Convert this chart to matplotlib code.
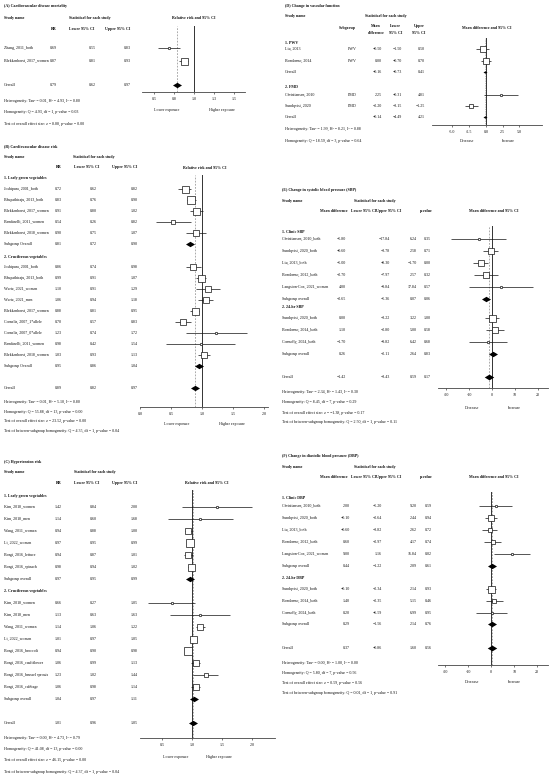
import numpy as np
import matplotlib
matplotlib.use("Agg")
import matplotlib.pyplot as plt
from matplotlib.path import Path

plt.rcParams['font.family'] = ['Liberation Serif', 'DejaVu Serif']

W, H = 550, 777
FS = 2.9

# ======================= DATA =======================
# (A) Cardiovascular disease mortality
A_names = ["Zhang, 2011_both", "Blekkenhorst, 2017_women"]
A_est = [0.69, 0.87]
A_lo = [0.55, 0.81]
A_hi = [0.83, 0.93]
A_wt = [6, 49]
A_overall = [0.79, 0.62, 0.97]
A_ticks = [0.5, 0.75, 1.0, 1.25, 1.5]
A_ticklabels = ["0.5", "0.8", "1.0", "1.3", "1.5"]
A_stats = ["Heterogeneity: Tau² = 0.01, H² = 4.93, I² = 0.80",
           "Homogeneity: Q = 4.93, df = 1, p-value = 0.03",
           "Test of overall effect size: z = 8.88, p-value = 0.00"]

# (B) Cardiovascular disease risk
B_g1_names = ["Joshipura, 2001_both", "Bhupathiraju, 2013_both", "Blekkenhorst, 2017_women",
              "Bendinelli, 2011_women", "Blekkenhorst, 2018_women"]
B_g1_est = [0.72, 0.83, 0.91, 0.54, 0.90]
B_g1_lo = [0.62, 0.76, 0.80, 0.26, 0.75]
B_g1_hi = [0.82, 0.90, 1.02, 0.82, 1.07]
B_g1_wt = [49, 56, 49, 16, 36]
B_g1_sub = [0.81, 0.72, 0.90]
B_g2_names = ["Joshipura, 2001_both", "Bhupathiraju, 2013_both", "Wurtz, 2021_women", "Wurtz, 2021_men",
              "Blekkenhorst, 2017_women", "Cornelis, 2007_1*allele", "Cornelis, 2007_0*allele",
              "Bendinelli, 2011_women", "Blekkenhorst, 2018_women"]
B_g2_est = [0.86, 0.99, 1.10, 1.06, 0.88, 0.70, 1.23, 0.98, 1.03]
B_g2_lo = [0.74, 0.91, 0.91, 0.94, 0.81, 0.57, 0.74, 0.42, 0.93]
B_g2_hi = [0.98, 1.07, 1.29, 1.18, 0.95, 0.83, 1.72, 1.54, 1.13]
B_g2_wt = [42, 49, 36, 42, 49, 42, 6, 6, 42]
B_g2_sub = [0.95, 0.86, 1.04]
B_overall = [0.89, 0.82, 0.97]
B_ticks = [0.0, 0.5, 1.0, 1.5, 2.0]
B_stats = ["Heterogeneity: Tau² = 0.01, H² = 5.10, I² = 0.80",
           "Homogeneity: Q = 55.88, df = 13, p-value = 0.00",
           "Test of overall effect size: z = 23.52, p-value = 0.00",
           "Test of between-subgroup homogeneity: Q = 4.35, df = 1, p-value = 0.04"]

# (C) Hypertension risk
C_g1_names = ["Kim, 2018_women", "Kim, 2018_men", "Wang, 2011_women", "Li, 2022_women",
              "Borgi, 2016_lettuce", "Borgi, 2016_spinach"]
C_g1_est = [1.42, 1.14, 0.94, 0.97, 0.94, 0.98]
C_g1_lo = [0.84, 0.60, 0.88, 0.95, 0.87, 0.94]
C_g1_hi = [2.00, 1.68, 1.00, 0.99, 1.01, 1.02]
C_g1_wt = [6, 6, 45, 56, 45, 49]
C_g1_sub = [0.97, 0.95, 0.99]
C_g2_names = ["Kim, 2018_women", "Kim, 2018_men", "Wang, 2011_women", "Li, 2022_women",
              "Borgi, 2016_broccoli", "Borgi, 2016_cauliflower", "Borgi, 2016_brussel sprouts",
              "Borgi, 2016_cabbage"]
C_g2_est = [0.66, 1.13, 1.14, 1.01, 0.94, 1.06, 1.23, 1.06]
C_g2_lo = [0.27, 0.63, 1.06, 0.97, 0.90, 0.99, 1.02, 0.98]
C_g2_hi = [1.05, 1.63, 1.22, 1.05, 0.98, 1.13, 1.44, 1.14]
C_g2_wt = [6, 6, 30, 49, 56, 36, 14, 42]
C_g2_sub = [1.04, 0.97, 1.11]
C_overall = [1.01, 0.96, 1.05]
C_ticks = [0.5, 1.0, 1.5, 2.0]
C_stats = ["Heterogeneity: Tau² = 0.00, H² = 4.73, I² = 0.79",
           "Homogeneity: Q = 41.08, df = 13, p-value = 0.00",
           "Test of overall effect size: z = 46.15, p-value = 0.00",
           "Test of between-subgroup homogeneity: Q = 4.37, df = 1, p-value = 0.04"]

# (D) Change in vascular function
D_g1_names = ["Liu, 2013", "Bondonno, 2014"]
D_g1_est = [-0.50, 0.00]
D_g1_lo = [-1.50, -0.70]
D_g1_hi = [0.50, 0.70]
D_g1_wt = [30, 30]
D_g1_sub = [-0.16, -0.73, 0.41]
D_g2_names = ["Christiansen, 2010", "Sundqvist, 2020"]
D_g2_est = [2.25, -2.20]
D_g2_lo = [-0.31, -3.15]
D_g2_hi = [4.81, -1.25]
D_g2_wt = [4, 25]
D_g2_sub = [-0.14, -4.49, 4.21]
D_ticks = [-5.0, -2.5, 0.0, 2.5, 5.0]
D_stats = ["Heterogeneity: Tau² = 1.99, H² = 8.21, I² = 0.88",
           "Homogeneity: Q = 18.59, df = 3, p-value = 0.64"]

# (E) Change in systolic blood pressure
E_g1_names = ["Christiansen, 2010_both", "Sundqvist, 2020_both", "Liu, 2013_both",
              "Bondonno, 2012_both", "Langston-Cox, 2021_women"]
E_g1_est = [-5.80, -0.60, -5.00, -2.70, 4.00]
E_g1_lo = [-17.84, -3.78, -8.30, -7.97, -9.84]
E_g1_hi = [6.24, 2.58, -1.70, 2.57, 17.84]
E_g1_p = [0.35, 0.71, 0.00, 0.32, 0.57]
E_g1_wt = [6, 42, 42, 30, 6]
E_g1_sub = [-2.65, -5.36, 0.07, 0.06]
E_g2_names = ["Sundqvist, 2020_both", "Bondonno, 2014_both", "Connolly, 2024_both"]
E_g2_est = [0.00, 1.10, -1.70]
E_g2_lo = [-3.22, -2.80, -9.82]
E_g2_hi = [3.22, 5.00, 6.42]
E_g2_p = [1.00, 0.58, 0.68]
E_g2_wt = [49, 36, 6]
E_g2_sub = [0.26, -2.11, 2.64, 0.83]
E_overall = [-1.42, -3.43, 0.59, 0.17]
E_stats = ["Heterogeneity: Tau² = 2.34, H² = 1.43, I² = 0.30",
           "Homogeneity: Q = 8.45, df = 7, p-value = 0.29",
           "Test of overall effect size: z = −1.38, p-value = 0.17",
           "Test of between-subgroup homogeneity: Q = 2.50, df = 1, p-value = 0.11"]

# (F) Change in diastolic blood pressure
F_g1_names = ["Christiansen, 2010_both", "Sundqvist, 2020_both", "Liu, 2013_both",
              "Bondonno, 2012_both", "Langston-Cox, 2021_women"]
F_g1_est = [2.00, -0.10, -0.60, 0.60, 9.00]
F_g1_lo = [-5.20, -2.64, -3.82, -2.97, 1.16]
F_g1_hi = [9.20, 2.44, 2.62, 4.17, 16.84]
F_g1_p = [0.59, 0.94, 0.72, 0.74, 0.02]
F_g1_wt = [6, 30, 25, 25, 6]
F_g1_sub = [0.44, -1.22, 2.09, 0.61]
F_g2_names = ["Sundqvist, 2020_both", "Bondonno, 2014_both", "Connolly, 2024_both"]
F_g2_est = [-0.10, 1.40, 0.20]
F_g2_lo = [-2.34, -2.35, -6.59]
F_g2_hi = [2.14, 5.15, 6.99]
F_g2_p = [0.93, 0.46, 0.95]
F_g2_wt = [49, 25, 6]
F_g2_sub = [0.29, -1.56, 2.14, 0.76]
F_overall = [0.37, -0.86, 1.60, 0.56]
F_stats = ["Heterogeneity: Tau² = 0.00, H² = 1.00, I² = 0.00",
           "Homogeneity: Q = 5.80, df = 7, p-value = 0.56",
           "Test of overall effect size: z = 0.59, p-value = 0.56",
           "Test of between-subgroup homogeneity: Q = 0.01, df = 1, p-value = 0.91"]
MD_ticks = [-20, -10, 0, 10, 20]

# ======================= DRAWING =======================
fig = plt.figure(figsize=(W / 100, H / 100), dpi=100)
fig.patch.set_facecolor('white')

INK = '#111111'


def fmt(v):
    return f"{v:.2f}".replace("-", "\u2212")


def T(x, y, s, bold=False, ha='left', size=FS):
    fig.text(x / W, 1 - y / H, s, fontsize=size, fontweight='bold' if bold else 'normal',
             ha=ha, va='center', color=INK)


def make_ax(x0, x1, ytop, yaxis, xlim, ticks, ticklabels=None):
    ax = fig.add_axes([x0 / W, 1 - yaxis / H, (x1 - x0) / W, (yaxis - ytop) / H])
    ax.set_xlim(*xlim)
    ax.set_ylim(yaxis, ytop)
    for s in ('top', 'right', 'left'):
        ax.spines[s].set_visible(False)
    ax.spines['bottom'].set_linewidth(0.6)
    ax.spines['bottom'].set_color('#444444')
    ax.set_yticks([])
    ax.set_xticks(ticks)
    if ticklabels is None:
        ticklabels = [f"{t:.1f}" if isinstance(t, float) else str(t) for t in ticks]
    ax.set_xticklabels(ticklabels)
    ax.tick_params(axis='x', length=1.2, width=0.4, pad=2.5, labelsize=FS, colors=INK)
    ax.patch.set_visible(False)
    return ax


DIAMOND = Path([(-1, 0), (0, 0.6), (1, 0), (0, -0.6), (-1, 0)],
               [Path.MOVETO, Path.LINETO, Path.LINETO, Path.LINETO, Path.CLOSEPOLY])


def study(ax, y, e, lo, hi, wt):
    ax.plot([lo, hi], [y, y], color=INK, lw=0.5, solid_capstyle='butt', zorder=3)
    if wt < 12:
        ax.plot([e], [y], marker='o', ms=2.4 * 0.72, mfc='white', mec=INK, mew=0.5, zorder=4)
    else:
        ax.plot([e], [y], marker='s', ms=np.sqrt(wt) * 0.72, mfc='white', mec=INK, mew=0.5,
                zorder=4)


def summary(ax, y, e, size=9):
    ax.plot([e], [y], marker=DIAMOND, ms=size * 0.72, color='black', mew=0, zorder=4)


def ref_lines(ax, null, dash):
    ax.axvline(null, color='#333333', lw=0.7, zorder=2)
    ax.axvline(dash, color='#888888', lw=0.5, ls=(0, (2.5, 2)), zorder=2)


# ---------------- Panel A ----------------
T(4, 6, "(A) Cardiovascular disease mortality", bold=True)
T(4, 18, "Study name", bold=True)
T(90, 18, "Statistical for each study", bold=True, ha='center')
T(57, 29, "RR", bold=True, ha='right')
T(82, 29, "Lower 95% CI", bold=True, ha='center')
T(118, 29, "Upper 95% CI", bold=True, ha='center')
T(194, 18, "Relative risk and 95% CI", bold=True, ha='center')
axA = make_ax(142, 245, 26, 92, (0.35, 1.64), A_ticks, A_ticklabels)
ref_lines(axA, 1.0, A_overall[0])
for i, nm in enumerate(A_names):
    y = 48 + 13 * i
    T(4, y, nm)
    for xr, v in zip((57, 96, 131), (A_est[i], A_lo[i], A_hi[i])):
        T(xr, y, fmt(v), ha='right')
    study(axA, y, A_est[i], A_lo[i], A_hi[i], A_wt[i])
T(4, 85, "Overall")
for xr, v in zip((57, 96, 131), A_overall):
    T(xr, 85, fmt(v), ha='right')
summary(axA, 85, A_overall[0])
for k, s in enumerate(A_stats):
    T(4, (101, 112, 124)[k], s)
T(167, 110, "Lower exposure", ha='center')
T(222, 110, "Higher exposure", ha='center')


# ---------------- RR subgroup panel helper (B, C) ----------------
def rr_subgroup_panel(ax, groups, heads, sub_label, y_step, cols):
    for g, (names, est, lo, hi, wt, sub) in enumerate(groups):
        yh, y0, ysub = heads[g]
        T(4, yh, ["1. Leafy green vegetables", "2. Cruciferous vegetables"][g], bold=True)
        for i, nm in enumerate(names):
            y = y0 + y_step * i
            T(4, y, nm)
            for xr, v in zip(cols, (est[i], lo[i], hi[i])):
                T(xr, y, fmt(v), ha='right')
            study(ax, y, est[i], lo[i], hi[i], wt[i])
        T(4, ysub, sub_label)
        for xr, v in zip(cols, sub):
            T(xr, ysub, fmt(v), ha='right')
        summary(ax, ysub, sub[0])


# ---------------- Panel B ----------------
T(4, 146, "(B) Cardiovascular disease risk", bold=True)
T(4, 157, "Study name", bold=True)
T(94, 157, "Statistical for each study", bold=True, ha='center')
T(62, 167, "RR", bold=True, ha='right')
T(87, 167, "Lower 95% CI", bold=True, ha='center')
T(125, 167, "Upper 95% CI", bold=True, ha='center')
T(205, 168, "Relative risk and 95% CI", bold=True, ha='center')
axB = make_ax(140, 268, 175, 407, (0.0, 2.065), B_ticks)
ref_lines(axB, 1.0, B_overall[0])
rr_subgroup_panel(axB,
                  [(B_g1_names, B_g1_est, B_g1_lo, B_g1_hi, B_g1_wt, B_g1_sub),
                   (B_g2_names, B_g2_est, B_g2_lo, B_g2_hi, B_g2_wt, B_g2_sub)],
                  [(178, 189, 244), (257, 267, 366)], "Subgroup Overall", 11,
                  (62, 97, 138))
T(4, 388, "Overall")
for xr, v in zip((62, 97, 138), B_overall):
    T(xr, 388, fmt(v), ha='right')
summary(axB, 388, B_overall[0])
for k, s in enumerate(B_stats):
    T(4, (402, 411.5, 421, 430.5)[k], s)
T(177, 424, "Lower exposure", ha='center')
T(232, 424, "Higher exposure", ha='center')

# ---------------- Panel C ----------------
T(4, 462, "(C) Hypertension risk", bold=True)
T(4, 472, "Study name", bold=True)
T(95, 472, "Statistical for each study", bold=True, ha='center')
T(62, 483, "RR", bold=True, ha='right')
T(87, 483, "Lower 95% CI", bold=True, ha='center')
T(125, 483, "Upper 95% CI", bold=True, ha='center')
T(207, 483, "Relative risk and 95% CI", bold=True, ha='center')
axC = make_ax(140, 275, 490, 738, (0.133, 2.383), C_ticks)
ref_lines(axC, 1.0, C_overall[0])
rr_subgroup_panel(axC,
                  [(C_g1_names, C_g1_est, C_g1_lo, C_g1_hi, C_g1_wt, C_g1_sub),
                   (C_g2_names, C_g2_est, C_g2_lo, C_g2_hi, C_g2_wt, C_g2_sub)],
                  [(496, 507, 579), (591, 603, 699)], "Subgroup overall", 12,
                  (62, 97, 138))
T(4, 723, "Overall")
for xr, v in zip((62, 97, 138), C_overall):
    T(xr, 723, fmt(v), ha='right')
summary(axC, 723, C_overall[0])
for k, s in enumerate(C_stats):
    T(4, (738, 749, 760, 771.5)[k], s)
T(176, 757, "Lower exposure", ha='center')
T(219, 757, "Higher exposure", ha='center')

# ---------------- Panel D ----------------
T(285, 6, "(D) Change in vascular function", bold=True)
T(285, 16, "Study name", bold=True)
T(386, 16, "Statistical for each study", bold=True, ha='center')
T(347, 28, "Subgroup", bold=True, ha='center')
T(376, 26, "Mean", bold=True, ha='center')
T(376, 33, "difference", bold=True, ha='center')
T(396, 26, "Lower", bold=True, ha='center')
T(396, 33, "95% CI", bold=True, ha='center')
T(419, 26, "Upper", bold=True, ha='center')
T(419, 33, "95% CI", bold=True, ha='center')
T(487, 28, "Mean difference and 95% CI", bold=True, ha='center')
axD = make_ax(432, 542, 38, 125, (-8.06, 8.36), D_ticks)
axD.axvline(0.0, color='#333333', lw=0.7, zorder=2)
axD.axvline(D_g1_sub[0], color='#888888', lw=0.5, ls=(0, (1, 1.5)), zorder=2)
D_groups = [("1. PWV", "PWV", D_g1_names, D_g1_est, D_g1_lo, D_g1_hi, D_g1_wt, D_g1_sub, 43, (49, 61), 72),
            ("2. FMD", "FMD", D_g2_names, D_g2_est, D_g2_lo, D_g2_hi, D_g2_wt, D_g2_sub, 87, (95, 106), 117)]
Dcols = (382, 402, 425)
for head, sg, names, est, lo, hi, wt, sub, yh, ys, ysub in D_groups:
    T(285, yh, head, bold=True)
    for i, nm in enumerate(names):
        y = ys[i]
        T(285, y, nm)
        T(352, y, sg, ha='center')
        for xr, v in zip(Dcols, (est[i], lo[i], hi[i])):
            T(xr, y, fmt(v), ha='right')
        study(axD, y, est[i], lo[i], hi[i], wt[i])
    T(285, ysub, "Overall")
    for xr, v in zip(Dcols, sub):
        T(xr, ysub, fmt(v), ha='right')
    summary(axD, ysub, sub[0], size=4)
T(285, 129, D_stats[0])
T(285, 141, D_stats[1])
T(467, 141, "Decrease", ha='center')
T(508, 141, "Increase", ha='center')


# ---------------- MD panel helper (E, F) ----------------
def md_panel(tag, title, ybase, groups, overall, stats, ytop, yaxis, xlim, cols, heads,
             sub_rows, y_overall, stat_ys, ylab, zero_dash):
    T(282, ybase, title, bold=True)
    T(282, ybase + 11, "Study name", bold=True)
    T(375, ybase + 11, "Statistical for each study", bold=True, ha='center')
    T(348, ybase + 21, "Mean difference", bold=True, ha='right')
    T(364, ybase + 21, "Lower 95% CI", bold=True, ha='center')
    T(389, ybase + 21, "Upper 95% CI", bold=True, ha='center')
    T(426, ybase + 21, "p-value", bold=True, ha='center')
    T(494, ybase + 21, "Mean difference and 95% CI", bold=True, ha='center')
    ax = make_ax(438, 548, ytop, yaxis, xlim, MD_ticks)
    ref_lines(ax, 0.0, zero_dash)
    for g, (names, est, lo, hi, p, wt, sub) in enumerate(groups):
        yh, y0 = heads[g]
        T(282, yh, [f"1. Clinic {tag}", f"2. 24-hr {tag}"][g], bold=True)
        for i, nm in enumerate(names):
            y = y0 + 12 * i
            T(282, y, nm)
            for xr, v in zip(cols, (est[i], lo[i], hi[i], p[i])):
                T(xr, y, fmt(v), ha='right')
            study(ax, y, est[i], lo[i], hi[i], wt[i])
        ys = sub_rows[g]
        T(282, ys, "Subgroup overall")
        for xr, v in zip(cols, sub):
            T(xr, ys, fmt(v), ha='right')
        summary(ax, ys, sub[0], size=9)
    T(282, y_overall, "Overall")
    for xr, v in zip(cols, overall):
        T(xr, y_overall, fmt(v), ha='right')
    summary(ax, y_overall, overall[0], size=9.5)
    for k, s in enumerate(stats):
        T(282, stat_ys[k], s)
    T(472, ylab, "Decrease", ha='center')
    T(514, ylab, "Increase", ha='center')


md_panel("SBP", "(E) Change in systolic blood pressure (SBP)", 190,
         [(E_g1_names, E_g1_est, E_g1_lo, E_g1_hi, E_g1_p, E_g1_wt, E_g1_sub),
          (E_g2_names, E_g2_est, E_g2_lo, E_g2_hi, E_g2_p, E_g2_wt, E_g2_sub)],
         E_overall, E_stats, 226, 388, (-23.5, 24.3), (346, 390, 417, 431),
         [(232, 239), (307, 318)], (299, 354), 377, (392, 402, 412.5, 422), 408,
         E_overall[0])

md_panel("DBP", "(F) Change in diastolic blood pressure (DBP)", 456,
         [(F_g1_names, F_g1_est, F_g1_lo, F_g1_hi, F_g1_p, F_g1_wt, F_g1_sub),
          (F_g2_names, F_g2_est, F_g2_lo, F_g2_hi, F_g2_p, F_g2_wt, F_g2_sub)],
         F_overall, F_stats, 492, 665, (-23.1, 24.7), (350, 382, 417, 432),
         [(498, 506), (578, 589)], (566, 624), 648, (663, 673, 683, 693), 682,
         F_overall[0])

fig.savefig("out.png", dpi=100, facecolor='white')
